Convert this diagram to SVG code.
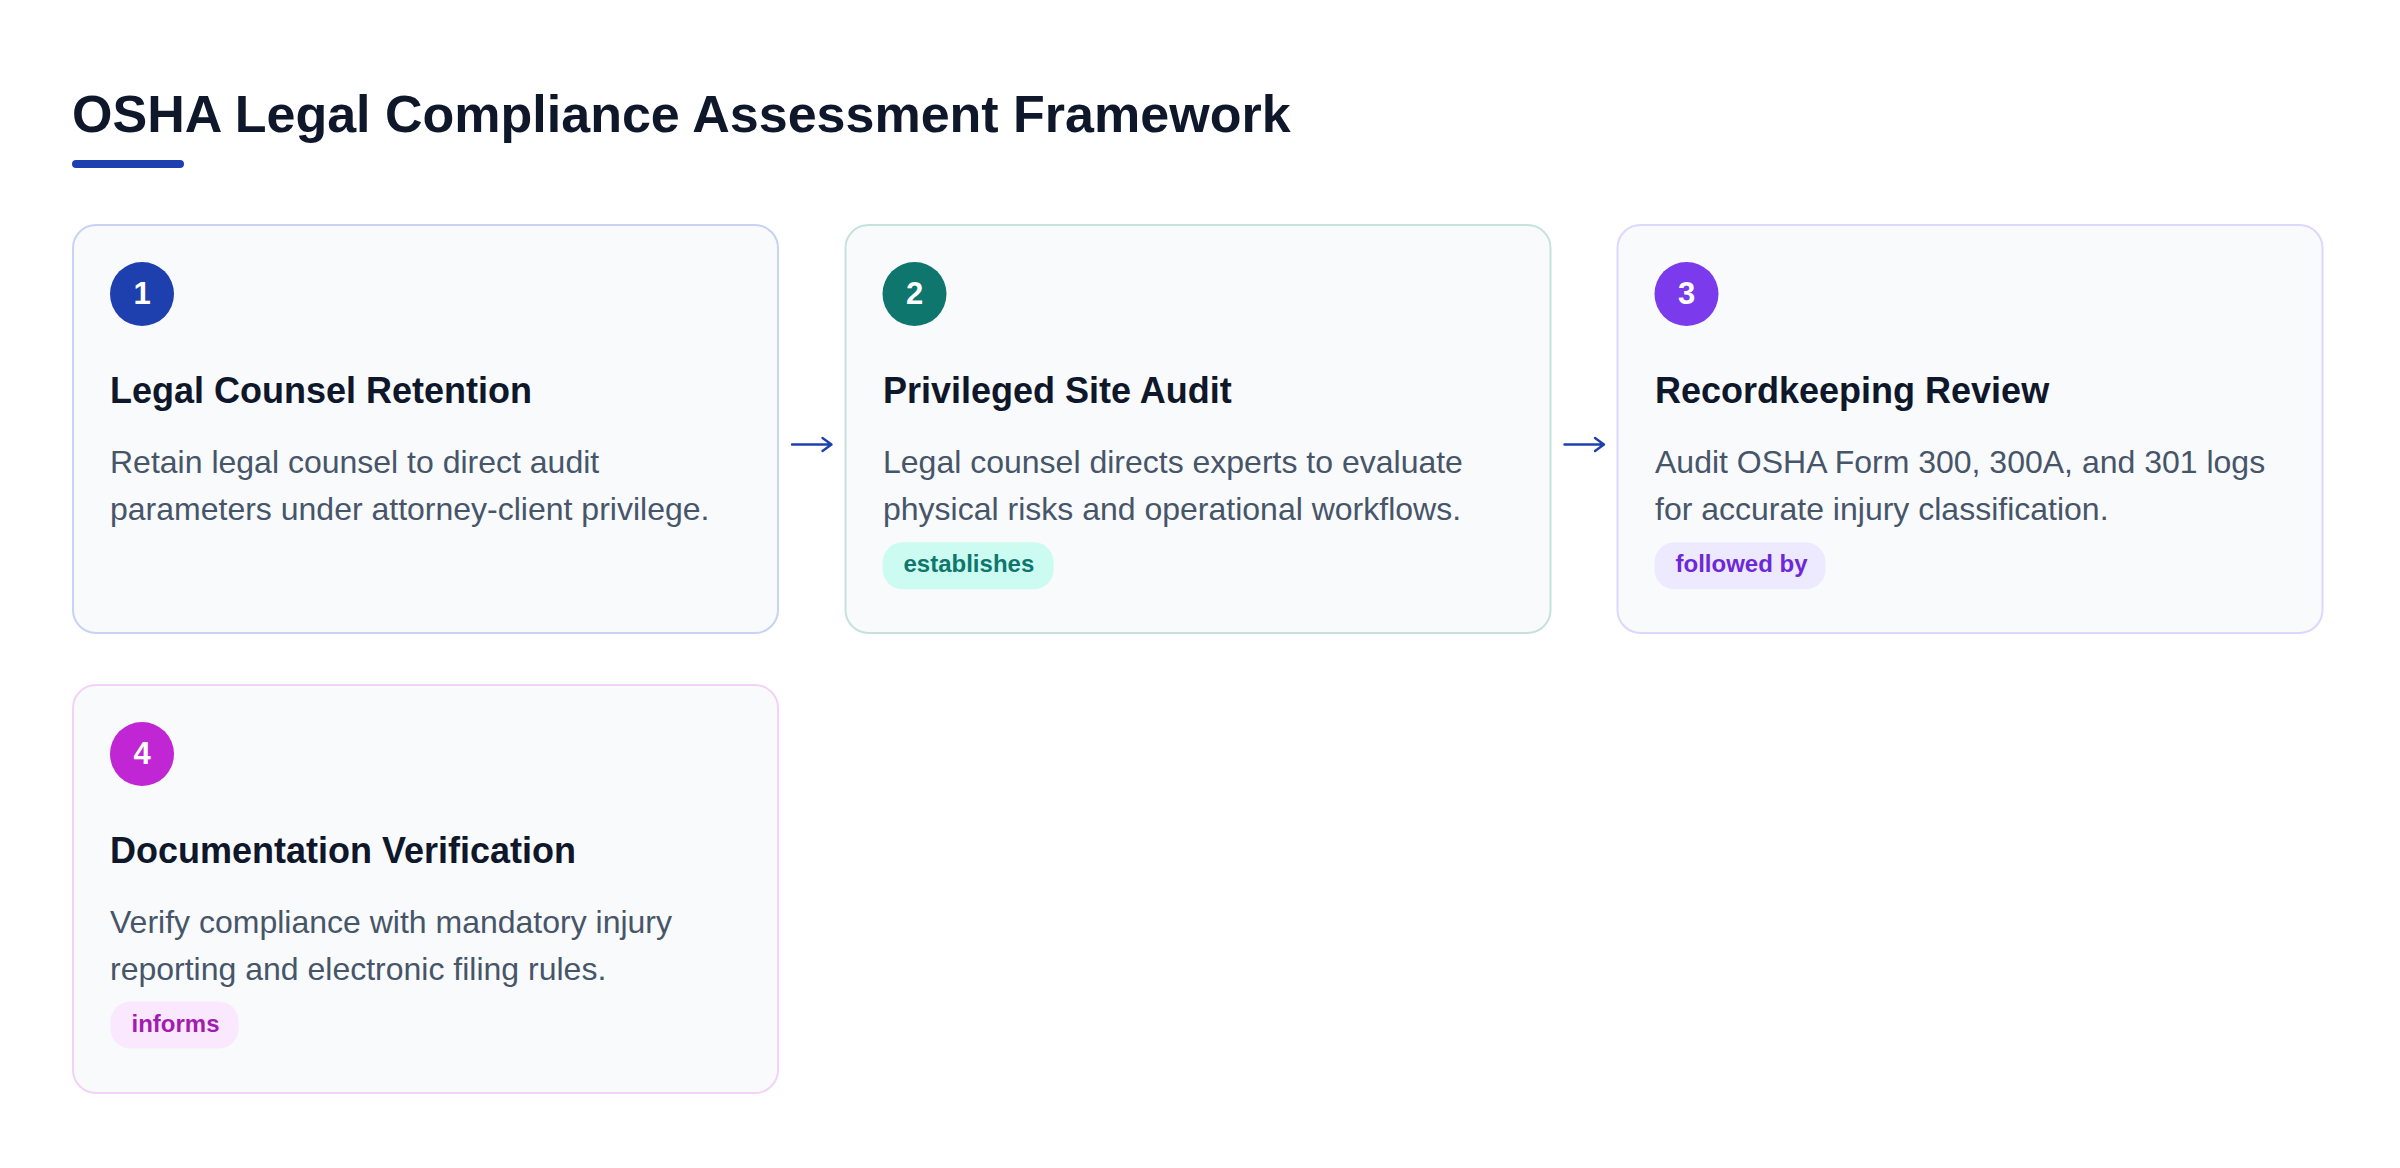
<svg xmlns="http://www.w3.org/2000/svg" width="2400" height="1168" viewBox="0 0 2400 1168">
<style>
text{font-family:"Liberation Sans",Arial,Helvetica,sans-serif}
.h1{font-size:52px;font-weight:700;fill:#0f172a}
.card{fill:#f8fafc;stroke-width:2}
.num{font-size:31px;font-weight:700;fill:#ffffff;text-anchor:middle}
.ttl{font-size:36px;font-weight:700;fill:#0f172a}
.desc{font-size:32px;fill:#475569}
.tag{font-size:24px;font-weight:700}
.arr{stroke:#1e40af;stroke-width:2.4;fill:none;stroke-linecap:round;stroke-linejoin:round}
</style>
<rect width="2400" height="1168" fill="#ffffff"/>
<g id="title">
<text class="h1" x="72" y="132">OSHA Legal Compliance Assessment Framework</text>
<rect x="72" y="160" width="112" height="8" rx="4" fill="#1e40af"/>
</g>
<g id="node1">
<rect class="card" x="73" y="225" width="705" height="408" rx="23" stroke="#c7d2f4"/>
<circle cx="142" cy="294" r="32" fill="#1e40af"/>
<text class="num" x="142" y="303.5">1</text>
<text class="ttl" x="110" y="403">Legal Counsel Retention</text>
<text class="desc" x="110" y="473">Retain legal counsel to direct audit</text>
<text class="desc" x="110" y="520">parameters under attorney-client privilege.</text>
</g>
<g id="node2">
<rect class="card" x="845.5" y="225" width="705" height="408" rx="23" stroke="#c5e2dd"/>
<circle cx="914.5" cy="294" r="32" fill="#0f766e"/>
<text class="num" x="914.5" y="303.5">2</text>
<text class="ttl" x="883" y="403">Privileged Site Audit</text>
<text class="desc" x="883" y="473">Legal counsel directs experts to evaluate</text>
<text class="desc" x="883" y="520">physical risks and operational workflows.</text>
<rect x="882.7" y="542.3" width="171" height="47" rx="20" fill="#ccfbf1"/>
<text class="tag" x="903.5" y="572.3" fill="#0f766e">establishes</text>
</g>
<g id="node3">
<rect class="card" x="1617.5" y="225" width="705" height="408" rx="23" stroke="#ddd6fe"/>
<circle cx="1686.5" cy="294" r="32" fill="#7c3aed"/>
<text class="num" x="1686.5" y="303.5">3</text>
<text class="ttl" x="1655" y="403">Recordkeeping Review</text>
<text class="desc" x="1655" y="473">Audit OSHA Form 300, 300A, and 301 logs</text>
<text class="desc" x="1655" y="520">for accurate injury classification.</text>
<rect x="1654.5" y="542.3" width="171" height="47" rx="20" fill="#ede9fe"/>
<text class="tag" x="1675.5" y="572.3" fill="#6d28d9">followed by</text>
</g>
<g id="node4">
<rect class="card" x="73" y="685" width="705" height="408" rx="23" stroke="#f2d2f7"/>
<circle cx="142" cy="754" r="32" fill="#c026d3"/>
<text class="num" x="142" y="763.5">4</text>
<text class="ttl" x="110" y="863">Documentation Verification</text>
<text class="desc" x="110" y="933">Verify compliance with mandatory injury</text>
<text class="desc" x="110" y="980">reporting and electronic filing rules.</text>
<rect x="110.5" y="1001.5" width="128" height="47" rx="20" fill="#fae8ff"/>
<text class="tag" x="131.5" y="1031.5" fill="#a21caf">informs</text>
</g>
<g id="connectors">
<path class="arr" d="M792 444.5 H831 M822.5 438 L831.5 444.5 L822.5 451"/>
<path class="arr" d="M1564.5 444.5 H1603.5 M1595 438 L1604 444.5 L1595 451"/>
</g>
</svg>
